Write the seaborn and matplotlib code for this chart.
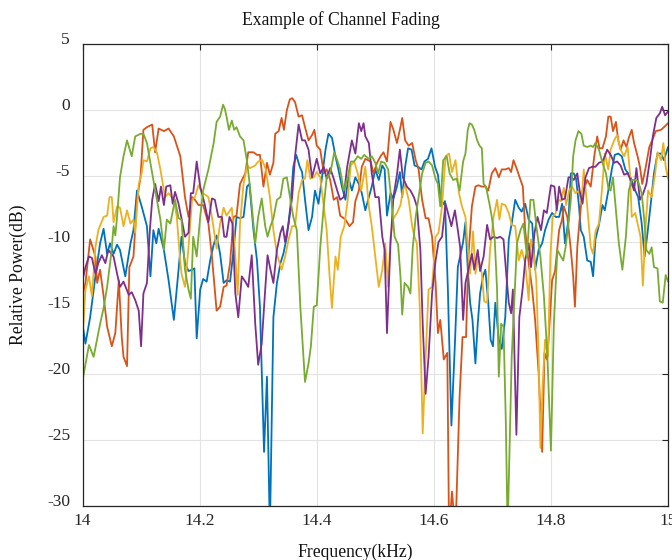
import pandas as pd
import numpy as np
import matplotlib
matplotlib.use("Agg")
import matplotlib.pyplot as plt
import matplotlib.transforms as mtransforms
import seaborn as sns

# (frequency kHz, relative power dB), one list per channel
blue = [
    (14.000, -16.2), (14.005, -17.7), (14.013, -15.7), (14.022, -12.6), (14.030, -10.1), (14.036, -9.0),
    (14.042, -10.9), (14.047, -10.1), (14.053, -10.9), (14.059, -10.2), (14.064, -10.6), (14.073, -12.6),
    (14.082, -10.1), (14.087, -9.1), (14.093, -6.1), (14.101, -7.3), (14.110, -8.8), (14.116, -12.6),
    (14.121, -9.1), (14.126, -10.1), (14.130, -9.0), (14.139, -10.6), (14.147, -12.9), (14.156, -15.9),
    (14.164, -12.1), (14.169, -9.6), (14.175, -11.6), (14.181, -12.2), (14.187, -12.1), (14.191, -12.0),
    (14.195, -17.3), (14.201, -13.6), (14.206, -12.8), (14.212, -13.0), (14.218, -11.4), (14.224, -10.2),
    (14.229, -9.5), (14.235, -10.9), (14.241, -13.1), (14.246, -12.9), (14.252, -13.0), (14.258, -10.6),
    (14.263, -8.1), (14.269, -8.2), (14.275, -8.1), (14.281, -5.8), (14.285, -5.6), (14.292, -9.1),
    (14.298, -11.4), (14.303, -14.9), (14.310, -25.9), (14.315, -20.2), (14.320, -32.0), (14.326, -15.7),
    (14.332, -13.1), (14.338, -11.6), (14.343, -10.9), (14.349, -9.6), (14.355, -7.3), (14.360, -4.3),
    (14.365, -3.4), (14.371, -4.3), (14.375, -4.7), (14.380, -6.8), (14.386, -9.1), (14.392, -8.1),
    (14.397, -6.1), (14.403, -7.1), (14.409, -5.1), (14.415, -3.0), (14.420, -1.8), (14.426, -2.1),
    (14.432, -3.5), (14.437, -4.5), (14.443, -5.8), (14.449, -6.8), (14.454, -5.1), (14.460, -6.1),
    (14.466, -5.1), (14.472, -5.6), (14.477, -6.3), (14.483, -7.6), (14.489, -6.6), (14.494, -5.8),
    (14.500, -4.5), (14.506, -5.3), (14.512, -4.2), (14.516, -4.5), (14.520, -8.0), (14.526, -6.3),
    (14.531, -6.7), (14.537, -5.8), (14.542, -4.7), (14.546, -6.6), (14.551, -4.3), (14.556, -2.9),
    (14.562, -3.0), (14.567, -4.2), (14.573, -4.3), (14.579, -4.5), (14.584, -3.9), (14.590, -3.7),
    (14.596, -2.9), (14.602, -4.3), (14.607, -4.9), (14.613, -7.3), (14.619, -6.9), (14.624, -13.6),
    (14.630, -23.9), (14.636, -17.7), (14.641, -11.9), (14.650, -10.0), (14.654, -8.5), (14.658, -12.1),
    (14.662, -14.6), (14.666, -15.9), (14.671, -19.2), (14.675, -16.2), (14.679, -13.9), (14.684, -12.6),
    (14.688, -12.1), (14.693, -14.6), (14.697, -17.4), (14.701, -17.9), (14.705, -14.6), (14.711, -17.4),
    (14.716, -18.1), (14.722, -15.7), (14.728, -9.8), (14.733, -8.6), (14.739, -6.8), (14.745, -7.4),
    (14.750, -7.7), (14.756, -7.1), (14.762, -8.3), (14.768, -8.6), (14.773, -12.1), (14.779, -10.6),
    (14.785, -10.1), (14.790, -9.1), (14.796, -8.3), (14.802, -7.8), (14.808, -8.1), (14.814, -8.1),
    (14.819, -7.1), (14.824, -10.1), (14.830, -8.3), (14.834, -4.8), (14.839, -4.8), (14.843, -5.2),
    (14.848, -7.3), (14.851, -9.1), (14.856, -9.6), (14.862, -11.4), (14.868, -11.5), (14.872, -12.6),
    (14.876, -9.8), (14.882, -8.7), (14.888, -7.2), (14.892, -7.6), (14.898, -6.1), (14.904, -4.5),
    (14.909, -3.4), (14.915, -3.3), (14.921, -3.5), (14.927, -4.5), (14.932, -4.8), (14.938, -5.3),
    (14.944, -6.1), (14.949, -6.6), (14.955, -8.6), (14.960, -11.1), (14.965, -9.3), (14.970, -7.3),
    (14.976, -4.8), (14.982, -3.3), (14.988, -3.3), (14.993, -3.8), (15.000, -2.8),
]

orange = [
    (14.000, -14.1), (14.005, -13.1), (14.013, -9.8), (14.022, -11.1), (14.025, -13.1), (14.030, -12.1),
    (14.036, -14.1), (14.042, -16.4), (14.050, -17.9), (14.056, -16.9), (14.062, -12.9), (14.067, -17.2),
    (14.070, -18.7), (14.076, -19.4), (14.080, -11.9), (14.087, -11.1), (14.093, -6.8), (14.099, -5.1),
    (14.104, -1.5), (14.110, -1.3), (14.119, -1.1), (14.124, -3.2), (14.130, -1.4), (14.139, -1.6),
    (14.147, -1.4), (14.156, -2.0), (14.167, -3.5), (14.175, -6.6), (14.181, -8.1), (14.187, -6.6),
    (14.192, -6.8), (14.198, -7.2), (14.206, -7.2), (14.215, -8.6), (14.221, -11.1), (14.229, -15.2),
    (14.235, -14.9), (14.241, -13.4), (14.246, -13.3), (14.252, -11.6), (14.258, -8.1), (14.263, -8.0),
    (14.269, -5.6), (14.278, -4.8), (14.283, -3.2), (14.292, -3.2), (14.298, -3.4), (14.303, -3.4),
    (14.309, -5.8), (14.315, -4.0), (14.320, -4.9), (14.326, -4.0), (14.329, -1.8), (14.335, -1.6),
    (14.340, -0.6), (14.344, -1.5), (14.349, 0.0), (14.354, 0.8), (14.358, 0.9), (14.363, 0.6),
    (14.369, -0.5), (14.375, -0.4), (14.380, -1.3), (14.386, -2.3), (14.392, -1.9), (14.396, -1.5),
    (14.400, -2.7), (14.406, -3.0), (14.412, -4.8), (14.417, -4.5), (14.423, -5.3), (14.429, -6.8),
    (14.435, -6.6), (14.440, -8.0), (14.449, -8.3), (14.456, -8.8), (14.462, -8.5), (14.466, -6.9),
    (14.472, -6.1), (14.477, -4.3), (14.483, -3.7), (14.492, -3.9), (14.497, -4.8), (14.503, -4.0),
    (14.509, -3.5), (14.514, -3.2), (14.520, -3.9), (14.526, -0.9), (14.531, -1.5), (14.537, -2.5),
    (14.543, -1.3), (14.546, -0.6), (14.551, -2.3), (14.557, -2.7), (14.563, -2.5), (14.569, -3.8),
    (14.574, -4.5), (14.580, -6.8), (14.586, -8.2), (14.591, -8.2), (14.597, -9.6), (14.603, -13.1),
    (14.607, -16.9), (14.611, -15.9), (14.617, -18.9), (14.623, -18.4), (14.626, -32.0), (14.631, -28.9),
    (14.637, -32.0), (14.644, -21.7), (14.649, -17.2), (14.655, -17.2), (14.659, -11.1), (14.665, -7.3),
    (14.671, -5.8), (14.676, -5.7), (14.682, -5.8), (14.688, -5.8), (14.693, -6.1), (14.699, -4.8),
    (14.705, -4.4), (14.711, -5.1), (14.716, -4.5), (14.722, -4.5), (14.728, -4.4), (14.732, -4.7),
    (14.736, -3.8), (14.742, -4.5), (14.748, -5.3), (14.752, -5.8), (14.756, -9.1), (14.762, -11.6),
    (14.768, -13.6), (14.773, -15.9), (14.779, -19.9), (14.785, -25.9), (14.789, -18.4), (14.793, -18.9),
    (14.796, -17.4), (14.802, -12.9), (14.807, -12.2), (14.814, -9.1), (14.819, -8.3), (14.822, -7.3),
    (14.828, -8.1), (14.834, -10.6), (14.838, -12.6), (14.841, -14.9), (14.845, -10.4), (14.849, -8.3),
    (14.854, -6.1), (14.858, -5.8), (14.862, -5.3), (14.868, -5.8), (14.874, -3.5), (14.879, -2.0),
    (14.883, -2.9), (14.888, -2.9), (14.894, -2.0), (14.898, -0.5), (14.902, -0.5), (14.906, -1.6),
    (14.911, -0.9), (14.915, -2.3), (14.919, -3.0), (14.924, -2.3), (14.929, -2.8), (14.933, -2.1),
    (14.938, -1.5), (14.942, -2.5), (14.948, -3.5), (14.952, -4.3), (14.956, -5.6), (14.962, -4.3),
    (14.968, -2.8), (14.973, -2.3), (14.979, -1.6), (14.988, -1.5), (14.993, -1.3), (15.000, -1.0),
]

yellow = [
    (14.000, -17.4), (14.005, -13.6), (14.011, -12.6), (14.016, -14.1), (14.022, -10.4), (14.027, -9.1),
    (14.036, -8.1), (14.042, -8.0), (14.046, -6.6), (14.050, -6.6), (14.053, -8.5), (14.059, -7.3),
    (14.064, -7.4), (14.070, -8.8), (14.076, -7.6), (14.082, -8.6), (14.087, -8.3), (14.090, -9.3),
    (14.096, -5.6), (14.101, -4.8), (14.104, -3.8), (14.110, -3.9), (14.116, -2.9), (14.121, -2.8),
    (14.127, -3.2), (14.133, -4.5), (14.141, -6.6), (14.147, -6.3), (14.156, -6.8), (14.161, -8.1),
    (14.166, -11.0), (14.169, -12.4), (14.175, -13.4), (14.181, -10.4), (14.187, -6.8), (14.192, -6.6),
    (14.198, -5.7), (14.204, -6.3), (14.209, -6.4), (14.215, -6.6), (14.221, -8.1), (14.229, -10.5),
    (14.235, -8.6), (14.241, -7.4), (14.246, -8.0), (14.255, -7.4), (14.261, -11.1), (14.265, -14.0),
    (14.269, -8.6), (14.275, -5.6), (14.281, -4.2), (14.286, -4.4), (14.295, -4.2), (14.300, -3.9),
    (14.307, -3.8), (14.313, -4.5), (14.320, -6.6), (14.326, -9.1), (14.332, -10.9), (14.340, -12.1),
    (14.346, -11.1), (14.352, -9.8), (14.358, -8.8), (14.363, -8.8), (14.369, -6.3), (14.375, -5.3),
    (14.380, -5.2), (14.384, -3.8), (14.389, -5.2), (14.395, -5.1), (14.400, -4.7), (14.406, -5.1),
    (14.412, -7.3), (14.417, -9.1), (14.422, -12.6), (14.426, -15.0), (14.432, -11.1), (14.436, -12.1),
    (14.441, -9.6), (14.447, -8.8), (14.453, -6.8), (14.458, -4.2), (14.464, -3.9), (14.470, -4.8),
    (14.476, -6.1), (14.483, -4.3), (14.489, -7.3), (14.494, -8.8), (14.500, -11.1), (14.506, -13.4),
    (14.512, -12.1), (14.517, -10.1), (14.522, -13.4), (14.526, -9.6), (14.531, -8.2), (14.537, -7.8),
    (14.543, -7.2), (14.547, -6.1), (14.551, -5.7), (14.557, -6.8), (14.563, -8.8), (14.567, -9.6),
    (14.571, -10.1), (14.576, -14.9), (14.581, -24.5), (14.586, -18.7), (14.591, -13.6), (14.597, -13.4),
    (14.603, -9.6), (14.608, -9.3), (14.614, -7.3), (14.620, -3.5), (14.626, -3.3), (14.631, -4.7),
    (14.637, -3.8), (14.643, -6.3), (14.648, -7.3), (14.654, -8.1), (14.658, -10.4), (14.662, -12.4),
    (14.667, -9.2), (14.671, -12.4), (14.676, -11.1), (14.682, -12.4), (14.686, -14.5), (14.691, -14.6),
    (14.696, -10.6), (14.702, -8.1), (14.708, -6.8), (14.712, -8.3), (14.716, -7.1), (14.722, -7.2),
    (14.728, -7.8), (14.733, -8.7), (14.739, -8.8), (14.745, -11.4), (14.750, -10.6), (14.756, -11.6),
    (14.762, -14.4), (14.766, -9.8), (14.770, -10.6), (14.775, -12.9), (14.779, -18.7), (14.782, -25.6),
    (14.786, -20.7), (14.790, -17.4), (14.795, -18.7), (14.799, -11.1), (14.803, -8.1), (14.808, -7.8),
    (14.813, -6.8), (14.817, -6.9), (14.822, -5.9), (14.826, -7.2), (14.831, -6.1), (14.836, -5.8),
    (14.842, -6.3), (14.848, -6.1), (14.852, -7.1), (14.856, -4.5), (14.862, -7.3), (14.868, -10.4),
    (14.872, -10.9), (14.876, -9.2), (14.882, -8.6), (14.887, -6.1), (14.892, -3.3), (14.898, -4.5),
    (14.902, -3.0), (14.908, -2.3), (14.913, -1.9), (14.919, -3.0), (14.925, -3.5), (14.931, -2.8),
    (14.935, -4.8), (14.938, -8.1), (14.944, -7.8), (14.949, -8.8), (14.953, -9.6), (14.957, -13.3),
    (14.962, -8.6), (14.966, -6.1), (14.972, -6.6), (14.978, -4.8), (14.982, -3.2), (14.988, -3.8),
    (14.992, -2.5), (14.996, -4.3), (15.000, -5.2),
]

purple = [
    (14.000, -12.9), (14.005, -11.9), (14.011, -11.1), (14.016, -11.2), (14.022, -12.4), (14.027, -11.6),
    (14.033, -11.0), (14.039, -11.6), (14.044, -10.6), (14.053, -11.1), (14.059, -12.4), (14.064, -13.4),
    (14.070, -13.0), (14.079, -14.0), (14.084, -13.8), (14.090, -14.4), (14.096, -15.2), (14.100, -17.9),
    (14.104, -13.9), (14.110, -13.1), (14.115, -9.1), (14.119, -6.8), (14.124, -5.6), (14.130, -6.9),
    (14.134, -5.8), (14.139, -7.2), (14.143, -5.8), (14.150, -5.7), (14.154, -7.1), (14.158, -6.2),
    (14.164, -7.1), (14.169, -8.2), (14.175, -9.6), (14.181, -9.3), (14.185, -6.3), (14.189, -6.3),
    (14.195, -3.9), (14.201, -5.8), (14.209, -7.2), (14.215, -8.5), (14.221, -6.7), (14.226, -6.8),
    (14.232, -8.1), (14.238, -8.1), (14.242, -9.6), (14.246, -9.6), (14.251, -8.1), (14.256, -8.6),
    (14.261, -13.9), (14.266, -15.7), (14.272, -12.6), (14.278, -13.0), (14.283, -13.4), (14.289, -11.0),
    (14.295, -16.2), (14.300, -19.3), (14.306, -17.7), (14.312, -13.6), (14.316, -11.0), (14.321, -12.1),
    (14.326, -13.1), (14.332, -10.6), (14.338, -9.3), (14.342, -8.8), (14.346, -10.0), (14.352, -8.6),
    (14.358, -6.6), (14.363, -3.5), (14.369, -1.1), (14.375, -2.3), (14.380, -2.3), (14.386, -3.0),
    (14.392, -5.1), (14.396, -4.4), (14.400, -3.7), (14.406, -4.8), (14.412, -4.3), (14.417, -5.2),
    (14.423, -4.4), (14.429, -5.2), (14.435, -6.1), (14.440, -6.8), (14.446, -6.6), (14.452, -4.3),
    (14.460, -2.3), (14.466, -3.3), (14.472, -1.0), (14.476, -1.6), (14.480, -1.0), (14.483, -2.0),
    (14.489, -2.5), (14.494, -4.8), (14.500, -6.6), (14.506, -6.6), (14.512, -9.6), (14.516, -10.6),
    (14.520, -16.9), (14.526, -10.1), (14.531, -6.6), (14.537, -4.9), (14.542, -3.0), (14.547, -5.1),
    (14.554, -5.8), (14.560, -6.1), (14.566, -6.6), (14.571, -7.3), (14.577, -10.6), (14.581, -16.2),
    (14.586, -21.5), (14.591, -18.7), (14.597, -13.9), (14.603, -11.4), (14.608, -10.0), (14.614, -9.6),
    (14.620, -7.1), (14.626, -8.1), (14.630, -8.8), (14.636, -7.6), (14.641, -9.1), (14.645, -10.4),
    (14.650, -15.9), (14.654, -13.1), (14.659, -12.1), (14.665, -10.9), (14.669, -12.1), (14.675, -10.6),
    (14.679, -12.2), (14.685, -11.1), (14.691, -8.7), (14.696, -9.8), (14.702, -9.6), (14.708, -9.7),
    (14.713, -9.6), (14.719, -9.8), (14.724, -12.6), (14.728, -14.6), (14.732, -15.4), (14.735, -13.6),
    (14.741, -24.6), (14.746, -15.7), (14.752, -13.4), (14.756, -11.4), (14.762, -10.1), (14.766, -11.9),
    (14.772, -9.3), (14.777, -8.1), (14.783, -9.1), (14.788, -7.6), (14.793, -7.8), (14.800, -5.7),
    (14.806, -5.8), (14.810, -7.6), (14.814, -5.8), (14.819, -6.8), (14.824, -6.7), (14.830, -5.1),
    (14.835, -5.1), (14.839, -5.3), (14.845, -4.8), (14.849, -6.1), (14.854, -7.1), (14.859, -5.1),
    (14.865, -4.4), (14.871, -4.3), (14.876, -4.3), (14.882, -4.0), (14.888, -3.9), (14.892, -3.5),
    (14.896, -3.0), (14.902, -3.4), (14.908, -4.0), (14.913, -3.9), (14.919, -4.2), (14.925, -4.9),
    (14.931, -4.8), (14.936, -5.3), (14.942, -6.1), (14.946, -4.4), (14.952, -6.8), (14.957, -6.4),
    (14.963, -5.6), (14.969, -3.8), (14.974, -2.0), (14.980, -0.6), (14.986, -0.25), (14.990, 0.25),
    (14.995, -0.4), (15.000, -0.1),
]

green = [
    (14.000, -20.5), (14.011, -17.8), (14.019, -18.7), (14.030, -16.2), (14.036, -15.0), (14.042, -13.4),
    (14.049, -10.9), (14.053, -8.8), (14.056, -9.5), (14.059, -8.1), (14.064, -5.1), (14.070, -3.5),
    (14.076, -2.3), (14.084, -3.5), (14.090, -2.0), (14.099, -1.8), (14.104, -1.8), (14.110, -2.5),
    (14.121, -5.3), (14.133, -8.3), (14.139, -10.6), (14.144, -8.3), (14.150, -8.6), (14.158, -6.8),
    (14.164, -8.2), (14.169, -8.3), (14.175, -12.1), (14.181, -13.6), (14.185, -14.3), (14.189, -9.6),
    (14.195, -11.1), (14.201, -8.1), (14.206, -6.1), (14.215, -4.5), (14.224, -2.5), (14.229, -0.9),
    (14.235, -0.5), (14.240, 0.4), (14.243, 0.1), (14.246, -0.5), (14.250, -1.5), (14.255, -0.8),
    (14.259, -1.5), (14.263, -1.3), (14.269, -2.0), (14.275, -2.3), (14.281, -3.9), (14.286, -5.8),
    (14.295, -10.1), (14.300, -8.1), (14.306, -6.7), (14.312, -8.8), (14.316, -9.6), (14.321, -8.8),
    (14.326, -8.2), (14.332, -6.8), (14.338, -6.6), (14.343, -5.2), (14.349, -5.1), (14.355, -6.8),
    (14.360, -8.1), (14.366, -9.1), (14.372, -14.9), (14.376, -17.7), (14.380, -20.6), (14.386, -19.2),
    (14.390, -17.9), (14.395, -14.9), (14.400, -14.8), (14.406, -10.4), (14.412, -7.3), (14.417, -5.1),
    (14.423, -4.8), (14.430, -3.2), (14.435, -3.8), (14.440, -4.5), (14.446, -6.1), (14.453, -5.1),
    (14.458, -3.9), (14.464, -3.9), (14.470, -3.5), (14.476, -3.7), (14.481, -3.4), (14.489, -3.7),
    (14.494, -3.5), (14.500, -4.0), (14.505, -4.8), (14.510, -3.9), (14.516, -4.0), (14.522, -4.5),
    (14.527, -6.6), (14.533, -9.6), (14.539, -10.2), (14.543, -12.6), (14.546, -15.5), (14.550, -13.1),
    (14.556, -13.4), (14.560, -13.9), (14.564, -10.4), (14.569, -8.1), (14.574, -6.6), (14.580, -4.8),
    (14.586, -4.0), (14.591, -3.9), (14.597, -4.2), (14.603, -5.2), (14.607, -5.6), (14.611, -7.3),
    (14.616, -3.8), (14.622, -3.5), (14.627, -4.8), (14.633, -5.3), (14.639, -5.2), (14.644, -6.1),
    (14.650, -3.9), (14.654, -3.3), (14.658, -1.5), (14.661, -1.0), (14.665, -1.1), (14.669, -1.5),
    (14.674, -2.3), (14.678, -2.7), (14.682, -2.9), (14.685, -5.6), (14.689, -5.8), (14.695, -7.1),
    (14.699, -8.1), (14.704, -9.8), (14.708, -13.6), (14.711, -20.2), (14.715, -16.2), (14.719, -16.4),
    (14.723, -23.7), (14.726, -32.0), (14.729, -26.3), (14.733, -18.7), (14.737, -14.9), (14.742, -10.1),
    (14.748, -9.1), (14.753, -8.6), (14.759, -11.1), (14.765, -6.8), (14.770, -6.8), (14.776, -9.1),
    (14.782, -11.1), (14.788, -14.1), (14.794, -18.7), (14.800, -25.8), (14.805, -16.2), (14.811, -10.6),
    (14.817, -11.1), (14.821, -11.4), (14.825, -10.4), (14.830, -8.6), (14.834, -6.8), (14.838, -3.5),
    (14.842, -2.3), (14.847, -1.6), (14.852, -1.8), (14.856, -2.7), (14.862, -2.8), (14.868, -2.7),
    (14.872, -2.8), (14.876, -2.5), (14.882, -3.0), (14.888, -4.0), (14.894, -4.8), (14.898, -5.9),
    (14.902, -6.1), (14.906, -5.1), (14.911, -7.6), (14.916, -10.1), (14.922, -12.1), (14.928, -9.6),
    (14.933, -6.1), (14.938, -5.3), (14.944, -5.3), (14.949, -5.4), (14.955, -6.3), (14.960, -8.6),
    (14.963, -10.6), (14.968, -10.9), (14.972, -10.4), (14.976, -11.9), (14.982, -12.0), (14.986, -14.5),
    (14.991, -14.6), (14.996, -12.5), (15.000, -13.0),
]

channel_names = ["ch1", "ch2", "ch3", "ch4", "ch5"]
channel_colors = ["#0072BD", "#D95319", "#EDB120", "#7E2F8E", "#77AC30"]
x_ticks = [14, 14.2, 14.4, 14.6, 14.8, 15]
x_tick_labels = ["14", "14.2", "14.4", "14.6", "14.8", "15"]
y_ticks = [-30, -25, -20, -15, -10, -5, 0, 5]

# long table for seaborn
frames = []
for name, pts in zip(channel_names, [blue, orange, yellow, purple, green]):
    f = pd.DataFrame(pts, columns=["freq", "power"])
    f["channel"] = name
    frames.append(f)
df = pd.concat(frames, ignore_index=True)

sns.set_style("white")
plt.rcParams["font.family"] = ["Liberation Serif", "DejaVu Serif"]
plt.rcParams["axes.unicode_minus"] = False

fig = plt.figure(figsize=(6.72, 5.6), dpi=100)
ax = fig.add_axes([0.1228, 0.0964, 0.8713, 0.825])

sns.lineplot(data=df, x="freq", y="power", hue="channel", hue_order=channel_names,
             palette=channel_colors, estimator=None, sort=False, legend=False,
             linewidth=1.3, ax=ax)

ax.set_xlim(14, 15)
ax.set_ylim(-30, 5)
ax.set_xticks(x_ticks)
ax.set_xticklabels(x_tick_labels)
ax.set_yticks(y_ticks)
ax.set_yticklabels([str(v) for v in y_ticks])
ax.set_xlabel("")
ax.set_ylabel("")
ax.grid(True, color="#e3e3e3", linewidth=0.8)
ax.set_axisbelow(True)
for sp in ax.spines.values():
    sp.set_color("#262626")
    sp.set_linewidth(0.9)
ax.tick_params(direction="in", length=4, width=0.8, color="#262626",
               top=True, right=True, labelsize=12.5, labelcolor="#262626")
ax.tick_params(axis="x", pad=5)
ax.tick_params(axis="y", pad=9)

# y labels sit a little above their ticks in the reference
shift = mtransforms.ScaledTranslation(0, 6 / 100, fig.dpi_scale_trans)
for lab in ax.get_yticklabels():
    lab.set_transform(lab.get_transform() + shift)

fig.text(341 / 672, 1 - 20 / 560, "Example of Channel Fading", ha="center", va="center",
         fontsize=12.7, color="#111111")
fig.text(355 / 672, 1 - 552 / 560, "Frequency(kHz)", ha="center", va="center",
         fontsize=12.7, color="#111111")
fig.text(18 / 672, 1 - 275 / 560, "Relative Power(dB)", ha="center", va="center",
         rotation=90, fontsize=12.7, color="#111111")

fig.savefig("out.png", dpi=100)
